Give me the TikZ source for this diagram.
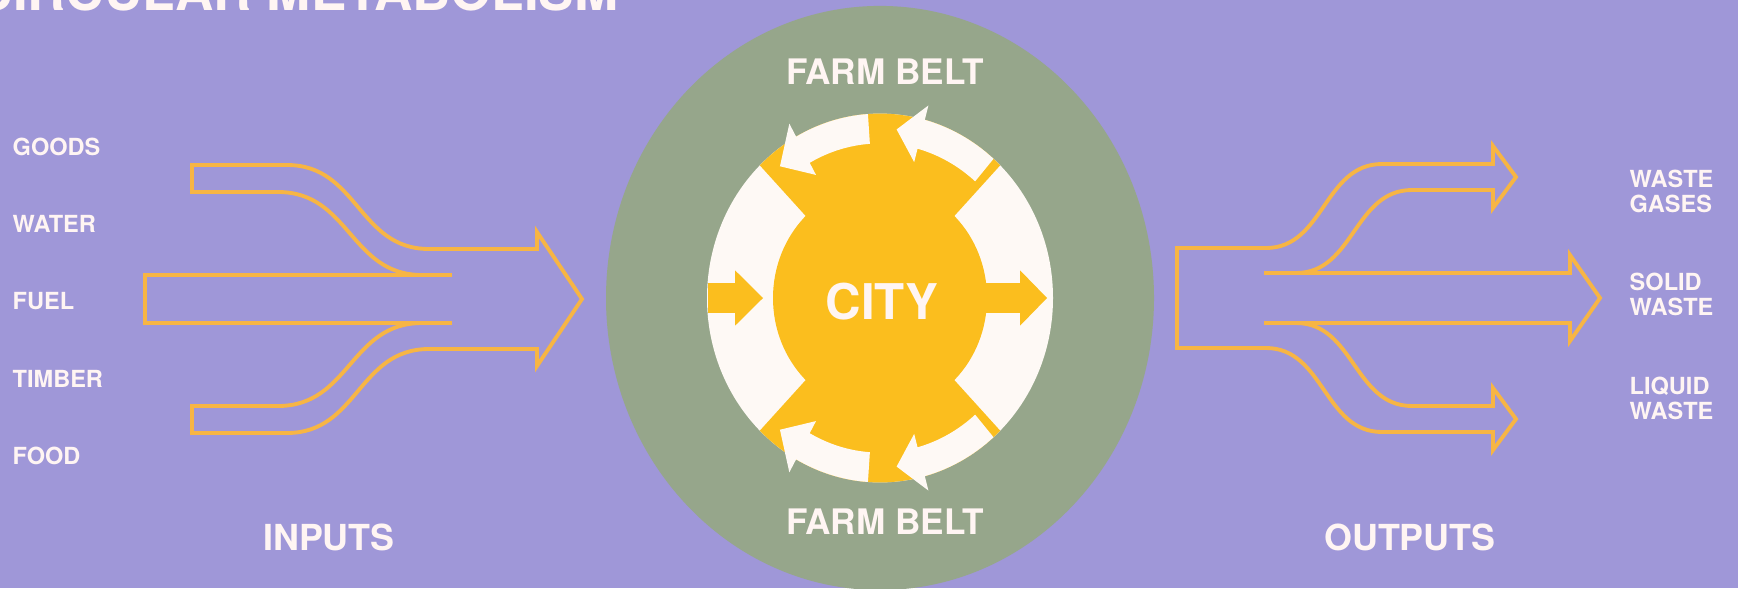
\documentclass[tikz,border=0pt]{standalone}
\usepackage{fontspec}
\setmainfont{TeX Gyre Heros}
\definecolor{Lavender}  {HTML}{9F97D8}
\definecolor{BeltGreen} {HTML}{96A68B}
\definecolor{CityYellow}{HTML}{FBBE1E}
\definecolor{RingWhite} {HTML}{FEF9F5}
\definecolor{FlowOrange}{HTML}{F7B544}
\definecolor{Chalk}     {HTML}{FFF5F3}
\tikzset{
  lbl/.style={anchor=west,inner sep=0pt,align=left,text=Chalk,
              font=\fontsize{6.7}{7.1}\selectfont\bfseries},
  biglbl/.style={inner sep=0pt,text=Chalk,
                 font=\fontsize{10.2}{12}\selectfont\bfseries},
  flow/.style={draw=FlowOrange,line width=1.1pt},
  swirl/.style={fill=RingWhite},
}
\begin{document}
\begin{tikzpicture}

  \useasboundingbox (0,0) rectangle (17.38,5.88);
  \fill[Lavender] (0,0) rectangle (17.38,5.88);

  \node[anchor=base west,inner sep=0pt,text=Chalk,
        font=\fontsize{15.1}{18}\selectfont\bfseries] (title) at (-0.26,5.78){CIRCULAR METABOLISM};

  % inputs
  \foreach \lab [count=\i from 0] in {GOODS,WATER,FUEL,TIMBER,FOOD}
    \node[lbl] (in\i) at (0.12,4.415-0.774*\i){\lab};

  \draw[flow] (4.52,3.13) -- (1.45,3.13) -- (1.45,2.65) -- (4.52,2.65);
  \draw[flow] (4.22,3.13) .. controls (3.50,3.13) and (3.50,3.96) .. (2.78,3.96)
    -- (1.92,3.96) -- (1.92,4.23) -- (2.87,4.23)
    .. controls (3.58,4.23) and (3.58,3.39) .. (4.29,3.39)
    -- (5.37,3.39) -- (5.37,3.56) -- (5.82,2.89) -- (5.37,2.22) -- (5.37,2.39) -- (4.29,2.39)
    .. controls (3.58,2.39) and (3.58,1.55) .. (2.87,1.55)
    -- (1.92,1.55) -- (1.92,1.82) -- (2.78,1.82)
    .. controls (3.50,1.82) and (3.50,2.65) .. (4.22,2.65);
  \node[biglbl] (inputs) at (3.29,0.51){INPUTS};

  % city and farm belt
  \begin{scope}[shift={(8.80,2.90)},yscale=1.066]
    \fill[BeltGreen] (0,0) circle (2.74);
    \fill[RingWhite] (0,0) circle (1.73);
    \fill[CityYellow] (0,0) circle (1.07);
    \fill[CityYellow] (0,0) -- (46:1.73) arc (46:134:1.73) -- cycle;
    \fill[CityYellow] (0,0) -- (226:1.73) arc (226:314:1.73) -- cycle;
    \fill[CityYellow] (-1.72,0.14) -- (-1.45,0.14) -- (-1.45,0.26) -- (-1.17,0)
      -- (-1.45,-0.26) -- (-1.45,-0.14) -- (-1.72,-0.14) -- cycle;
    \fill[CityYellow] (1.0,0.14) -- (1.40,0.14) -- (1.40,0.26) -- (1.67,0)
      -- (1.40,-0.26) -- (1.40,-0.14) -- (1.0,-0.14) -- cycle;
    \foreach \s in {1,-1}
      \foreach \a/\b/\c in {49/75/84,94/119/129}
        \fill[swirl] (\s*\a:1.73) arc (\s*\a:\s*\b:1.73) -- (\s*\b:1.87) -- (\s*\c:1.59)
          -- (\s*\b:1.32) -- (\s*\b:1.45) arc (\s*\b:\s*\a:1.45) -- cycle;
  \end{scope}
  \node[inner sep=0pt,text=Chalk,font=\fontsize{14}{16}\selectfont\bfseries] (city) at (8.82,2.86){CITY};
  \node[biglbl,font=\fontsize{10}{12}\selectfont\bfseries] (belttop) at (8.85,5.16){FARM BELT};
  \node[biglbl,font=\fontsize{10}{12}\selectfont\bfseries] (beltbot) at (8.85,0.66){FARM BELT};

  % outputs
  \draw[flow] (12.64,3.15) -- (15.70,3.15) -- (15.70,3.33) -- (16.00,2.90)
    -- (15.70,2.47) -- (15.70,2.65) -- (12.64,2.65);
  \draw[flow] (12.96,3.15) .. controls (13.54,3.15) and (13.54,3.98) .. (14.12,3.98)
    -- (14.93,3.98) -- (14.93,3.80) -- (15.16,4.11) -- (14.93,4.42) -- (14.93,4.24) -- (13.82,4.24)
    .. controls (13.24,4.24) and (13.24,3.40) .. (12.66,3.40)
    -- (11.77,3.40) -- (11.77,2.40) -- (12.66,2.40)
    .. controls (13.24,2.40) and (13.24,1.56) .. (13.82,1.56)
    -- (14.93,1.56) -- (14.93,1.38) -- (15.16,1.69) -- (14.93,2.00) -- (14.93,1.82) -- (14.12,1.82)
    .. controls (13.54,1.82) and (13.54,2.65) .. (12.96,2.65);
  \node[lbl] (gases) at (16.29,3.97){WASTE\\GASES};
  \node[lbl] (solid) at (16.29,2.94){SOLID\\WASTE};
  \node[lbl] (liquid) at (16.29,1.90){LIQUID\\WASTE};
  \node[biglbl] (outputs) at (14.10,0.51){OUTPUTS};

\end{tikzpicture}
\end{document}
